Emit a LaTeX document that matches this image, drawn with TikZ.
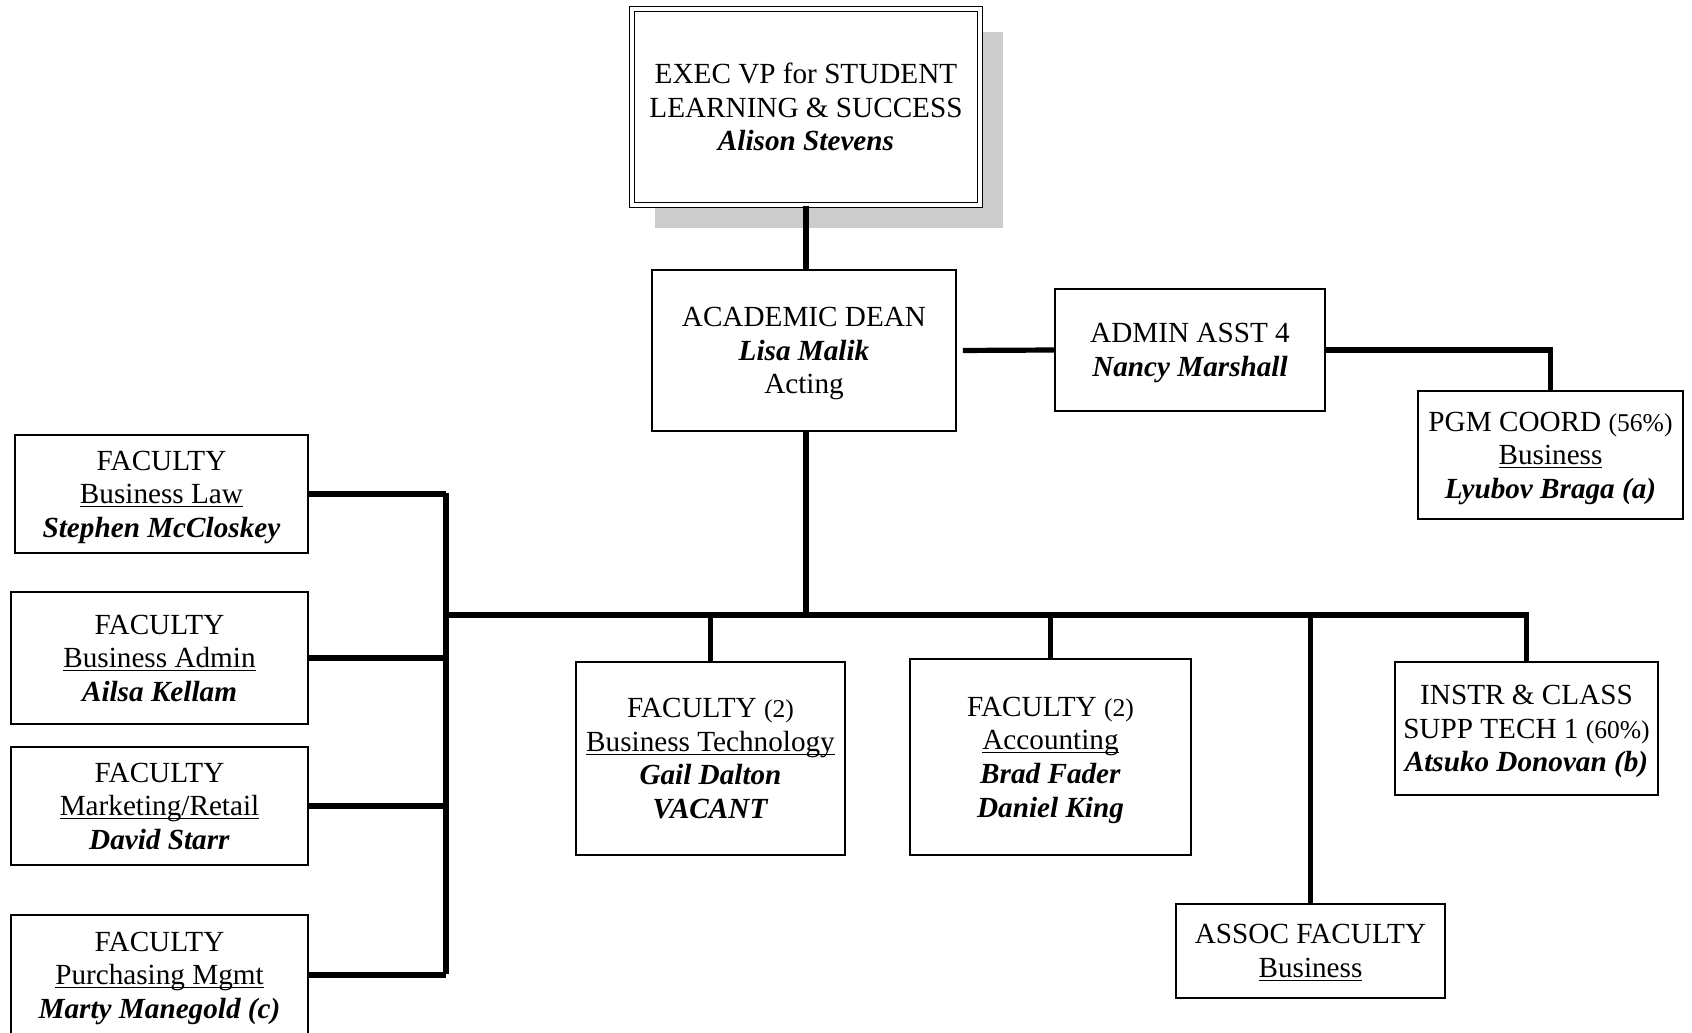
\documentclass[tikz,border=0pt]{standalone}
\usepackage{fontspec}
\setmainfont{Liberation Serif}
\usetikzlibrary{shadows}
\newcommand{\who}[1]{\textbf{\textit{#1}}}
\newcommand{\dept}[1]{\underline{\smash{#1}}}
\newcommand{\pct}[1]{{\fontsize{12.8}{17}\selectfont #1}}

\begin{document}
\begin{tikzpicture}[x=.5pt,y=-.5pt,
  box/.style={draw,fill=white,line width=.75pt,align=center,inner sep=0pt,
    text depth=0pt,font=\fontsize{14.6}{16.8}\selectfont},
  link/.style={line width=2.6pt}]
\useasboundingbox (0,0) rectangle (1692,1033);
%top of the chart
\node[box,double,double distance=1.6pt,line width=.7pt,
  minimum width=174pt,minimum height=98pt,
  drop shadow={shadow xshift=11.5pt,shadow yshift=-11.5pt,fill=black!20,opacity=1}]
  (exec) at (806,107) {EXEC VP for STUDENT\\LEARNING \& SUCCESS\\\who{Alison Stevens}};
\node[box,minimum width=152pt,minimum height=80.5pt] (dean) at (804,350.5)
  {ACADEMIC DEAN\\\who{Lisa Malik}\\Acting};
\node[box,minimum width=135pt,minimum height=61pt] (admin) at (1190,350)
  {ADMIN ASST 4\\\who{Nancy Marshall}};
\node[box,minimum width=132.5pt,minimum height=64pt] (pgm) at (1550.5,455)
  {PGM COORD \pct{(56\%)}\\\dept{Business}\\\who{Lyubov Braga (a)}};
%left column
\node[box,minimum width=146.5pt,minimum height=59pt] (law) at (161.5,494)
  {FACULTY\\\dept{Business Law}\\\who{Stephen McCloskey}};
\node[box,minimum width=148.5pt,minimum height=66pt] (busadm) at (159.5,658)
  {FACULTY\\\dept{Business Admin}\\\who{Ailsa Kellam}};
\node[box,minimum width=148.5pt,minimum height=59pt] (mktg) at (159.5,806)
  {FACULTY\\\dept{Marketing/Retail}\\\who{David Starr}};
\node[box,minimum width=148.5pt,minimum height=60pt] (purch) at (159.5,975)
  {FACULTY\\\dept{Purchasing Mgmt}\\\who{Marty Manegold (c)}};
%lower row
\node[box,minimum width=134.5pt,minimum height=96.5pt] (tech) at (710.5,758.5)
  {FACULTY \pct{(2)}\\\dept{Business Technology}\\\who{Gail Dalton}\\\who{VACANT}};
\node[box,minimum width=140.5pt,minimum height=98pt] (acct) at (1050.5,757)
  {FACULTY \pct{(2)}\\\dept{Accounting}\\\who{Brad Fader}\\\who{Daniel King}};
\node[box,minimum width=134.5pt,minimum height=47pt] (assoc) at (1310.5,951)
  {ASSOC FACULTY\\\dept{Business}};
\node[box,minimum width=131.5pt,minimum height=66.5pt] (instr) at (1526.5,728.5)
  {INSTR \& CLASS\\SUPP TECH 1 \pct{(60\%)}\\\who{Atsuko Donovan (b)}};
%connectors
\coordinate (bus) at (806,615);
\coordinate (busw) at (446,615);
\coordinate (bustop) at (446,493);
\coordinate (busbot) at (446,974);
\draw[link] (exec.south) -- (exec.south |- dean.north);
\draw[link,shorten <=3pt] (dean.east) -- (admin.west);
\draw[link] (admin.east) -| (pgm.north);
\draw[link] (bus |- dean.south) -- (bus);
\draw[link] (busw) -- (bus -| instr.north) -- (instr.north);
\draw[link] (bustop) -- (busbot);
\foreach \n in {law,busadm,mktg,purch}
  \draw[link] (\n.east) -- (\n.east -| bustop);
\foreach \n in {tech,acct,assoc}
  \draw[link] (\n.north |- bus) -- (\n.north);
\end{tikzpicture}
\end{document}
